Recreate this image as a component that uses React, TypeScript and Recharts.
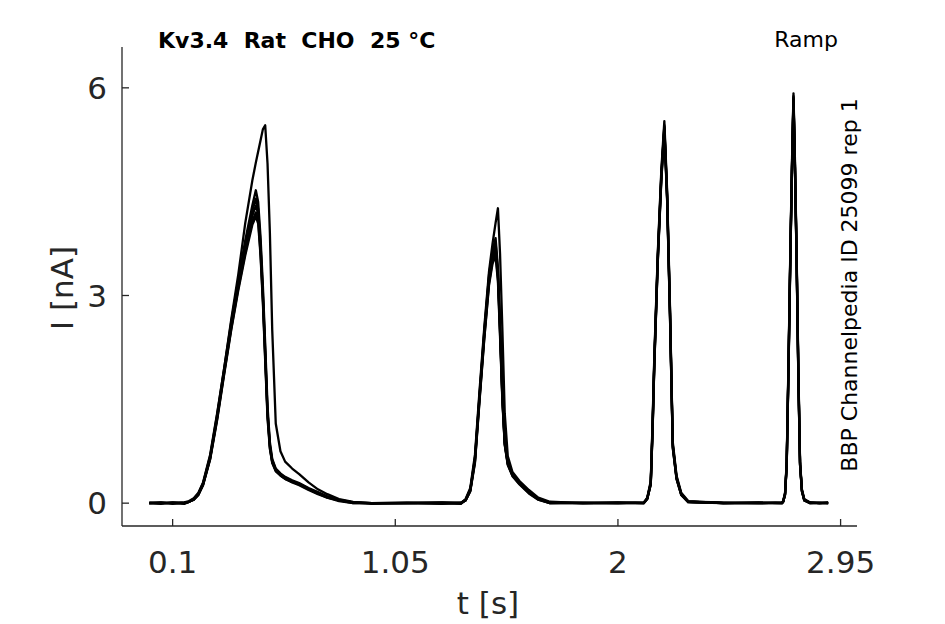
import React from 'react';
import { LineChart, Line, XAxis, YAxis } from 'recharts';

// time grid [s]
const time = [
  0, 0.05, 0.10, 0.15, 0.17, 0.19, 0.21, 0.23, 0.26, 0.29, 0.32, 0.35, 0.38, 0.41, 0.44, 0.455, 0.465, 0.475, 0.485, 0.495, 0.505, 0.515, 0.525, 0.54, 0.56, 0.58, 0.61, 0.64, 0.68, 0.72, 0.76, 0.81, 0.87, 0.95,
  1.10, 1.25, 1.33, 1.35, 1.37, 1.39, 1.41, 1.43, 1.45, 1.465, 1.478, 1.488, 1.497, 1.507, 1.517, 1.53, 1.55, 1.58, 1.62, 1.66, 1.71,
  1.85, 2.00, 2.11, 2.125, 2.14, 2.148, 2.155, 2.17, 2.185, 2.198, 2.21, 2.222, 2.234, 2.25, 2.27, 2.30,
  2.45, 2.60, 2.70, 2.705, 2.713, 2.72, 2.728, 2.736, 2.743, 2.749, 2.755, 2.762, 2.77, 2.777, 2.785, 2.795, 2.82, 2.86, 2.897,
];

// current traces [nA], one per sweep
const sweep1 = [
  0, 0.01, -0.01, 0.01, 0.03, 0.07, 0.15, 0.3, 0.7, 1.3, 1.95, 2.65, 3.3, 4.05, 4.66, 4.92, 5.08, 5.24, 5.4, 5.46, 4.9, 3.9, 2.5, 1.15, 0.75, 0.6, 0.5, 0.42, 0.3, 0.2, 0.13, 0.06, 0.02, 0,
  0, -0.01, 0, 0.06, 0.22, 0.7, 1.65, 2.55, 3.35, 3.75, 4.05, 4.26, 3.6, 2.5, 1.3, 0.68, 0.45, 0.32, 0.19, 0.08, 0.02,
  0, 0.01, 0, 0.08, 0.32, 1.2, 2.1, 3.62, 4.8, 5.52, 4.5, 2.85, 0.88, 0.4, 0.15, 0.03,
  0, 0.01, 0, 0.03, 0.15, 0.6, 2.1, 3.75, 5.0, 5.92, 5.0, 3.7, 1.9, 0.6, 0.2, 0.06, 0.01, 0, 0,
];
const sweep2 = [
  0, -0.01, 0.01, 0, 0.02, 0.06, 0.14, 0.29, 0.68, 1.28, 1.95, 2.62, 3.22, 3.8, 4.3, 4.52, 4.35, 3.85, 3.15, 2.3, 1.4, 0.88, 0.64, 0.5, 0.43, 0.38, 0.33, 0.29, 0.22, 0.16, 0.1, 0.05, 0.01, 0,
  0, 0, -0.01, 0.05, 0.2, 0.66, 1.6, 2.5, 3.3, 3.65, 3.83, 3.4, 2.6, 1.6, 0.9, 0.6, 0.42, 0.3, 0.17, 0.07, 0.01,
  0, 0, 0.01, 0.07, 0.3, 1.15, 2.05, 3.58, 4.75, 5.46, 4.45, 2.8, 0.85, 0.38, 0.14, 0.02,
  0, 0, 0.01, 0.03, 0.14, 0.58, 2.05, 3.7, 4.95, 5.88, 4.95, 3.65, 1.85, 0.58, 0.19, 0.05, 0.01, 0, 0.01,
];
const sweep3 = [
  0.01, 0, 0, -0.01, 0.02, 0.06, 0.13, 0.28, 0.66, 1.25, 1.92, 2.58, 3.18, 3.74, 4.22, 4.4, 4.25, 3.75, 3.05, 2.2, 1.32, 0.84, 0.62, 0.49, 0.42, 0.37, 0.32, 0.28, 0.21, 0.15, 0.09, 0.04, 0.01, 0,
  0.01, 0, 0, 0.05, 0.19, 0.64, 1.57, 2.47, 3.26, 3.6, 3.76, 3.35, 2.55, 1.55, 0.88, 0.58, 0.41, 0.29, 0.16, 0.06, 0.01,
  0, 0.01, 0, 0.07, 0.29, 1.12, 2.02, 3.55, 4.72, 5.44, 4.42, 2.78, 0.84, 0.37, 0.13, 0.02,
  0, 0.01, 0, 0.02, 0.13, 0.56, 2.02, 3.68, 4.92, 5.86, 4.93, 3.62, 1.83, 0.57, 0.18, 0.05, 0, 0.01, 0,
];
const sweep4 = [
  0, 0.01, 0, 0, 0.02, 0.05, 0.13, 0.27, 0.65, 1.24, 1.9, 2.55, 3.14, 3.68, 4.15, 4.3, 4.18, 3.7, 3.0, 2.15, 1.3, 0.82, 0.6, 0.48, 0.41, 0.36, 0.31, 0.27, 0.2, 0.14, 0.09, 0.04, 0.01, -0.01,
  0, 0.01, 0, 0.04, 0.18, 0.62, 1.55, 2.44, 3.22, 3.55, 3.7, 3.3, 2.5, 1.52, 0.86, 0.57, 0.4, 0.28, 0.15, 0.06, 0,
  0.01, 0, 0, 0.06, 0.28, 1.1, 2.0, 3.52, 4.7, 5.42, 4.4, 2.75, 0.82, 0.36, 0.13, 0.02,
  0, 0, 0.01, 0.02, 0.13, 0.55, 2.0, 3.66, 4.9, 5.84, 4.9, 3.6, 1.8, 0.56, 0.18, 0.04, 0.01, 0, 0,
];
const sweep5 = [
  0, 0, 0.01, 0, 0.02, 0.05, 0.12, 0.27, 0.64, 1.22, 1.88, 2.52, 3.1, 3.62, 4.07, 4.2, 4.1, 3.62, 2.95, 2.1, 1.26, 0.8, 0.59, 0.47, 0.4, 0.35, 0.31, 0.27, 0.2, 0.14, 0.08, 0.04, 0, 0,
  0, 0, 0.01, 0.04, 0.18, 0.6, 1.52, 2.4, 3.18, 3.5, 3.62, 3.25, 2.45, 1.5, 0.85, 0.56, 0.4, 0.28, 0.15, 0.05, 0,
  0, 0, 0.01, 0.06, 0.27, 1.08, 1.98, 3.5, 4.68, 5.4, 4.38, 2.72, 0.8, 0.35, 0.12, 0.02,
  0.01, 0, 0, 0.02, 0.12, 0.54, 1.98, 3.63, 4.88, 5.82, 4.88, 3.58, 1.78, 0.55, 0.17, 0.04, 0, 0, 0.01,
];
const sweep6 = [
  0, 0, 0, 0.01, 0.02, 0.05, 0.12, 0.26, 0.63, 1.2, 1.86, 2.5, 3.07, 3.58, 4.02, 4.14, 4.04, 3.58, 2.9, 2.05, 1.22, 0.78, 0.58, 0.46, 0.4, 0.35, 0.3, 0.26, 0.19, 0.13, 0.08, 0.03, 0, 0,
  0, 0.01, 0, 0.04, 0.17, 0.58, 1.5, 2.38, 3.15, 3.46, 3.57, 3.2, 2.4, 1.47, 0.84, 0.55, 0.39, 0.27, 0.14, 0.05, 0,
  0, 0, 0, 0.06, 0.27, 1.06, 1.96, 3.48, 4.65, 5.38, 4.36, 2.7, 0.8, 0.35, 0.12, 0.01,
  0, 0, 0, 0.02, 0.12, 0.53, 1.96, 3.6, 4.86, 5.8, 4.86, 3.56, 1.76, 0.55, 0.17, 0.04, 0, 0, 0,
];

const sweeps = [sweep1, sweep2, sweep3, sweep4, sweep5, sweep6];
const sweepKeys = ['s1', 's2', 's3', 's4', 's5', 's6'];

const xTicks = [0.1, 1.05, 2, 2.95];
const yTicks = [0, 3, 6];
const xDomain: [number, number] = [-0.116, 3.02];
const yDomain: [number, number] = [-0.33, 6.59];

const titleText = 'Kv3.4\u00a0\u00a0Rat\u00a0\u00a0CHO\u00a0\u00a025 \u00b0C';
const protocolText = 'Ramp';
const sideText = 'BBP Channelpedia ID 25099 rep 1';
const xLabel = 't [s]';
const yLabel = 'I [nA]';

const data = time.map((t, i) => {
  const row: Record<string, number> = { t };
  sweeps.forEach((s, k) => {
    row[sweepKeys[k]] = s[i];
  });
  return row;
});

const FONT = '"DejaVu Sans", sans-serif';
const AXIS = '#262626';

export default function App() {
  return (
    <div style={{ position: 'absolute', left: 0, top: 0, width: 945, height: 624, background: '#fff' }}>
      <LineChart
        width={945}
        height={624}
        data={data}
        margin={{ top: 47, right: 88, bottom: 38, left: 42 }}
      >
        <XAxis
          dataKey="t"
          type="number"
          domain={xDomain}
          ticks={xTicks}
          allowDataOverflow
          height={60}
          tickSize={-7}
          tickMargin={32}
          stroke={AXIS}
          strokeWidth={1.3}
          tick={{ fill: AXIS, fontSize: 31, fontFamily: FONT }}
          tickLine={{ stroke: AXIS }}
        />
        <YAxis
          type="number"
          domain={yDomain}
          ticks={yTicks}
          allowDataOverflow
          width={80}
          tickSize={-7}
          tickMargin={22}
          stroke={AXIS}
          strokeWidth={1.3}
          tick={{ fill: AXIS, fontSize: 31, fontFamily: FONT }}
          tickLine={{ stroke: AXIS }}
        />
        {sweepKeys.map((k) => (
          <Line
            key={k}
            dataKey={k}
            type="linear"
            stroke="#000"
            strokeWidth={2.3}
            dot={false}
            activeDot={false}
            isAnimationActive={false}
            strokeLinejoin="round"
          />
        ))}
      </LineChart>
      <svg
        width={945}
        height={624}
        style={{ position: 'absolute', left: 0, top: 0, pointerEvents: 'none' }}
      >
        <text x={158} y={48} fontFamily={FONT} fontWeight="bold" fontSize={22} fill="#000">
          {titleText}
        </text>
        <text x={838} y={47} textAnchor="end" fontFamily={FONT} fontSize={22} fill="#000">
          {protocolText}
        </text>
        <text
          x={857}
          y={285}
          textAnchor="middle"
          fontFamily={FONT}
          fontSize={22}
          fill="#000"
          transform="rotate(-90 857 285)"
        >
          {sideText}
        </text>
        <text x={488} y={614} textAnchor="middle" fontFamily={FONT} fontSize={31} fill={AXIS}>
          {xLabel}
        </text>
        <text
          x={73}
          y={288}
          textAnchor="middle"
          fontFamily={FONT}
          fontSize={31}
          fill={AXIS}
          transform="rotate(-90 73 288)"
        >
          {yLabel}
        </text>
      </svg>
    </div>
  );
}
